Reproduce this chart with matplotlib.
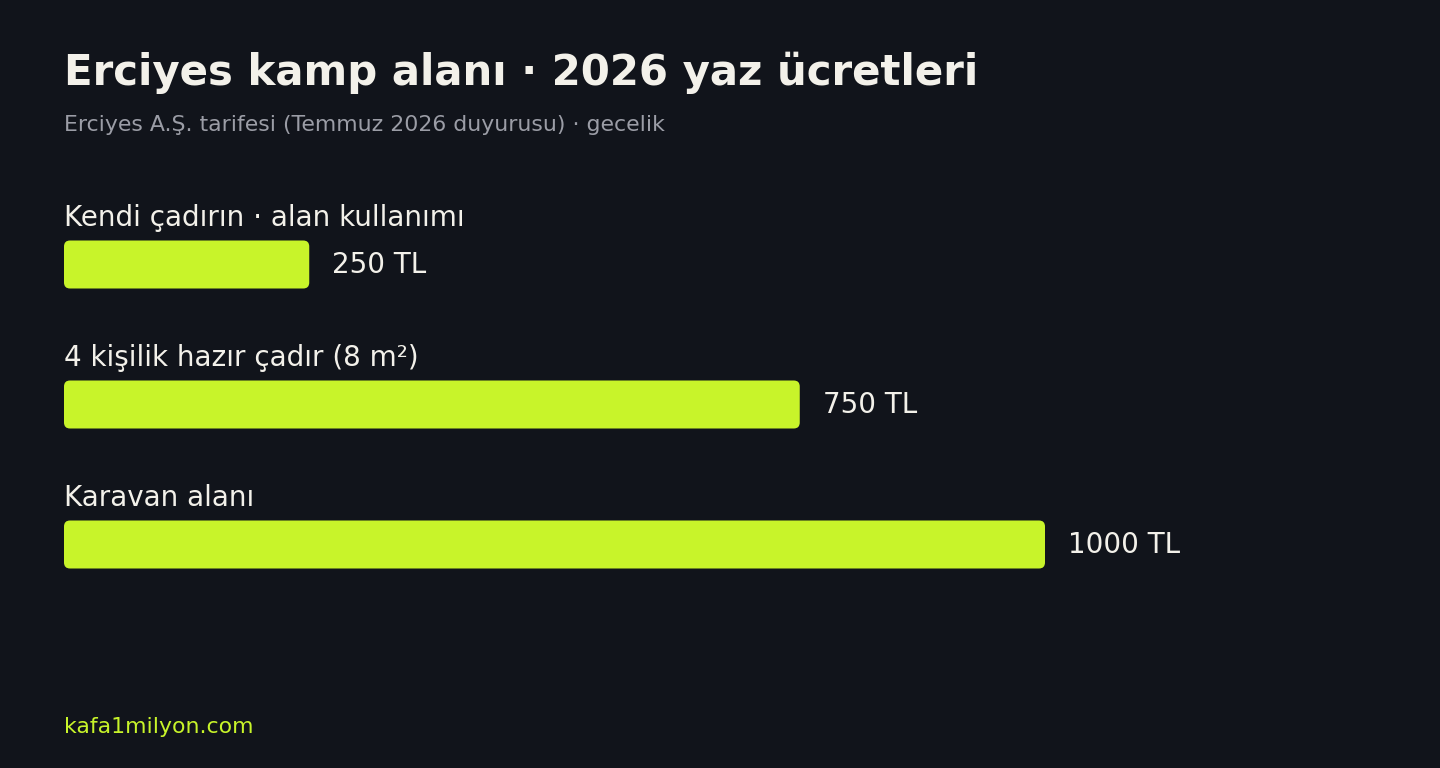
import matplotlib
matplotlib.use("Agg")
import matplotlib.pyplot as plt
from matplotlib.patches import FancyBboxPatch

categories = ["Kendi çadırın · alan kullanımı", "4 kişilik hazır çadır (8 m²)", "Karavan alanı"]
values = [250, 750, 1000]
value_labels = ["250 TL", "750 TL", "1000 TL"]
title = "Erciyes kamp alanı · 2026 yaz ücretleri"
subtitle = "Erciyes A.Ş. tarifesi (Temmuz 2026 duyurusu) · gecelik"
footer = "kafa1milyon.com"

BG = "#11141b"
BAR = "#c8f42a"
TXT = "#f3f1ea"
SUB = "#9b9da6"

W, H = 1440, 768
fig = plt.figure(figsize=(W / 100, H / 100), dpi=100, facecolor=BG)
plt.rcParams['font.family'] = ['DejaVu Sans']

def fy(px):
    return 1 - px / H

fig.text(64 / W, fy(85), title, fontsize=30.2, fontweight='bold', color=TXT, va='baseline', ha='left')
fig.text(64 / W, fy(131), subtitle, fontsize=15.8, color=SUB, va='baseline', ha='left')
fig.text(64 / W, fy(733), footer, fontsize=15.8, color=BAR, va='baseline', ha='left')

# axes: x 0..1000 -> px 64..1045 ; rows 140 px apart, centers at 264.5
ROW = 140.0
x0, x1 = 64, 1045
ytop = 264.5 - ROW / 2
ax = fig.add_axes([x0 / W, fy(ytop + 3 * ROW), (x1 - x0) / W, 3 * ROW / H])
ax.set_facecolor(BG)
ax.set_xlim(0, 1000)
ax.set_ylim(2.5, -0.5)
ax.axis('off')

px_x = 1000 / (x1 - x0)   # data units per px (x)
px_y = 1 / ROW            # data units per px (y)
bar_h = 48 * px_y
r = 6

bars = ax.barh(range(len(values)), values, height=bar_h, color=BAR)
for b in bars:
    b.set_visible(False)
    p = FancyBboxPatch((b.get_x(), b.get_y()), b.get_width(), b.get_height(),
                       boxstyle=f"round,pad=0,rounding_size={r * px_x}",
                       mutation_aspect=px_y / px_x,
                       facecolor=BAR, edgecolor='none', clip_on=False)
    ax.add_patch(p)

for i, (cat, v, lab) in enumerate(zip(categories, values, value_labels)):
    ax.text(0, i - 38.5 * px_y, cat, fontsize=20.0, color=TXT, va='baseline', ha='left', clip_on=False)
    ax.text(v + 23 * px_x, i + 8.5 * px_y, lab, fontsize=20.0, color=TXT, va='baseline', ha='left', clip_on=False)

fig.savefig("out.png", dpi=100, facecolor=BG)
